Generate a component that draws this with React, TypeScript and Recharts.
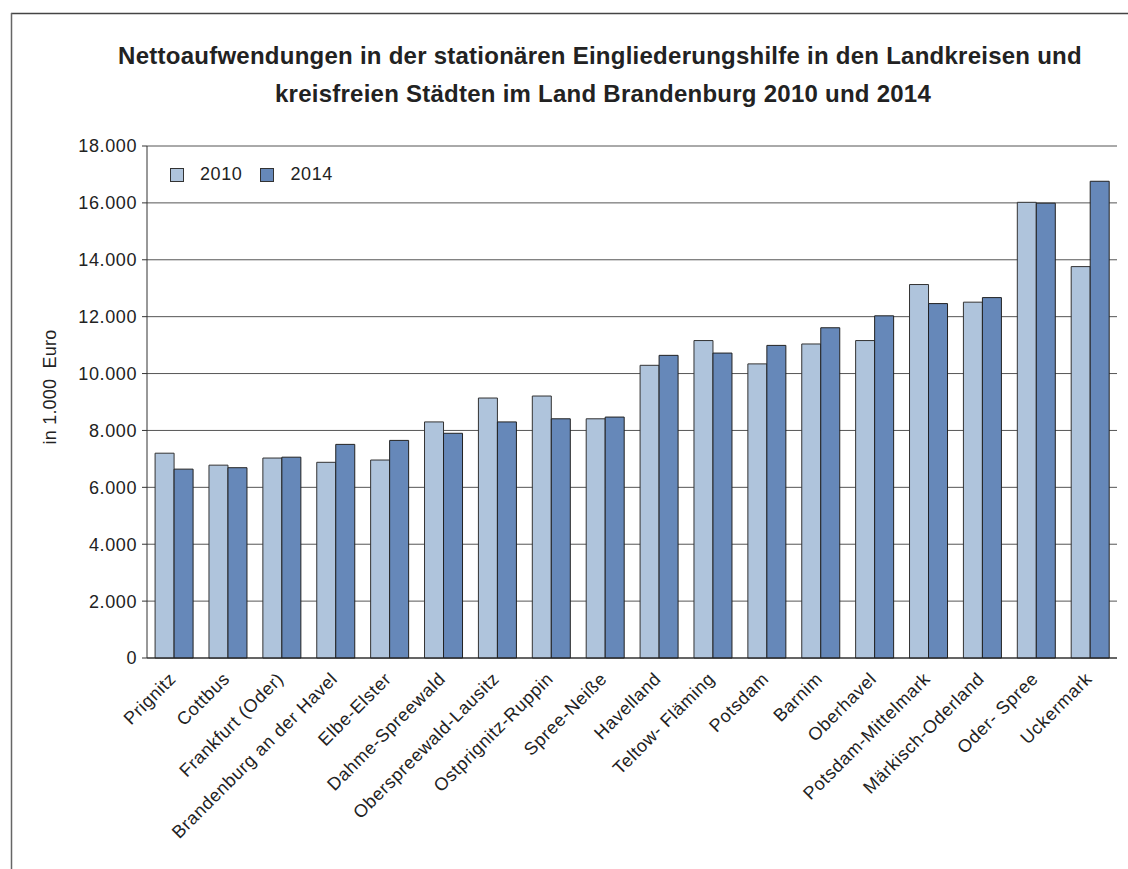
import React from "react";
import { BarChart, Bar, XAxis, YAxis, CartesianGrid, Legend } from "recharts";

const districts = [
  "Prignitz",
  "Cottbus",
  "Frankfurt (Oder)",
  "Brandenburg an der Havel",
  "Elbe-Elster",
  "Dahme-Spreewald",
  "Oberspreewald-Lausitz",
  "Ostprignitz-Ruppin",
  "Spree-Neiße",
  "Havelland",
  "Teltow- Fläming",
  "Potsdam",
  "Barnim",
  "Oberhavel",
  "Potsdam-Mittelmark",
  "Märkisch-Oderland",
  "Oder- Spree",
  "Uckermark",
];
const values2010 = [7200, 6780, 7030, 6880, 6960, 8300, 9140, 9210, 8410, 10290, 11160, 10340, 11040, 11160, 13130, 12510, 16020, 13760];
const values2014 = [6640, 6690, 7060, 7510, 7650, 7900, 8300, 8410, 8470, 10640, 10720, 10990, 11610, 12030, 12460, 12670, 15990, 16760];
const yTicks = [0, 2000, 4000, 6000, 8000, 10000, 12000, 14000, 16000, 18000];
const seriesNames = ["2010", "2014"];
const seriesColors = ["#afc4dc", "#6688b9"];

const data = districts.map((name, i) => ({ name, y2010: values2010[i], y2014: values2014[i] }));

const FONT = "'Liberation Sans', Arial, sans-serif";
const fmt = (v: number) => String(v).replace(/\B(?=(\d{3})+(?!\d))/g, ".");

function CategoryTick({ x, y, payload }: any) {
  return (
    <g transform={`translate(${x + 3},${y + 14})`}>
      <text
        x={0}
        y={0}
        textAnchor="end"
        transform="rotate(-45)"
        fill="#222"
        fontSize={18}
        fontFamily={FONT}
        style={{ letterSpacing: 0.6 }}
      >
        {payload.value}
      </text>
    </g>
  );
}

function LegendBox() {
  return (
    <div style={{ display: "flex", alignItems: "center", fontFamily: FONT, fontSize: 18, color: "#222", letterSpacing: 0.6 }}>
      {seriesNames.map((n, i) => (
        <div key={n} style={{ display: "flex", alignItems: "center", marginRight: 18 }}>
          <span
            style={{
              width: 12,
              height: 12,
              background: seriesColors[i],
              border: "1px solid #333",
              marginRight: 16,
              display: "inline-block",
            }}
          />
          <span>{n}</span>
        </div>
      ))}
    </div>
  );
}

function YLabel({ viewBox }: any) {
  const cx = viewBox.x - 37;
  const cy = viewBox.y + viewBox.height / 2 - 15;
  return (
    <text
      x={cx}
      y={cy}
      transform={`rotate(-90, ${cx}, ${cy})`}
      textAnchor="middle"
      dominantBaseline="central"
      fill="#222"
      fontSize={18}
      fontFamily={FONT}
      style={{ whiteSpace: "pre", letterSpacing: 0.2 }}
    >
      {"in 1.000  Euro"}
    </text>
  );
}

export default function App() {
  return (
    <div style={{ position: "absolute", left: 0, top: 0, width: 1128, height: 869, background: "#fff" }}>
      <BarChart
        width={1128}
        height={869}
        data={data}
        margin={{ top: 146, right: 11, bottom: 61, left: 87 }}
        barCategoryGap="15%"
        barGap={0}
      >
        <CartesianGrid vertical={false} stroke="#555" />
        <XAxis
          dataKey="name"
          interval={0}
          height={150}
          tickLine={false}
          axisLine={{ stroke: "#222" }}
          tick={<CategoryTick />}
        />
        <YAxis
          width={60}
          domain={[0, 18000]}
          ticks={yTicks}
          tickFormatter={fmt}
          tickSize={5}
          tickMargin={5}
          axisLine={{ stroke: "#333" }}
          tickLine={{ stroke: "#333" }}
          tick={{ fill: "#222", fontSize: 18, fontFamily: FONT, style: { letterSpacing: 0.6 } } as any}
          label={<YLabel />}
        />
        <YAxis
          yAxisId="right"
          orientation="right"
          width={0}
          tick={false}
          tickLine={false}
          axisLine={{ stroke: "#888" }}
        />
        <Legend
          verticalAlign="top"
          align="left"
          wrapperStyle={{ top: 164, left: 170, width: 0, height: 0, overflow: "visible", whiteSpace: "nowrap" }}
          content={<LegendBox />}
        />
        <Bar dataKey="y2010" name="2010" fill={seriesColors[0]} stroke="#333" strokeWidth={1} isAnimationActive={false} />
        <Bar dataKey="y2014" name="2014" fill={seriesColors[1]} stroke="#222" strokeWidth={1} isAnimationActive={false} />
      </BarChart>
      <svg width={1128} height={869} style={{ position: "absolute", left: 0, top: 0, pointerEvents: "none" }}>
        <line x1={11} y1={13.5} x2={1128} y2={13.5} stroke="#444" strokeWidth={1.5} />
        <line x1={11.5} y1={13} x2={11.5} y2={869} stroke="#666" strokeWidth={1.5} />
        <text x={600} y={64} textAnchor="middle" fontFamily={FONT} fontWeight="bold" fontSize={24} fill="#222" style={{ letterSpacing: 0.25 }}>
          Nettoaufwendungen in der stationären Eingliederungshilfe in den Landkreisen und
        </text>
        <text x={603} y={102} textAnchor="middle" fontFamily={FONT} fontWeight="bold" fontSize={24} fill="#222" style={{ letterSpacing: 0.25 }}>
          kreisfreien Städten im Land Brandenburg 2010 und 2014
        </text>
      </svg>
    </div>
  );
}
